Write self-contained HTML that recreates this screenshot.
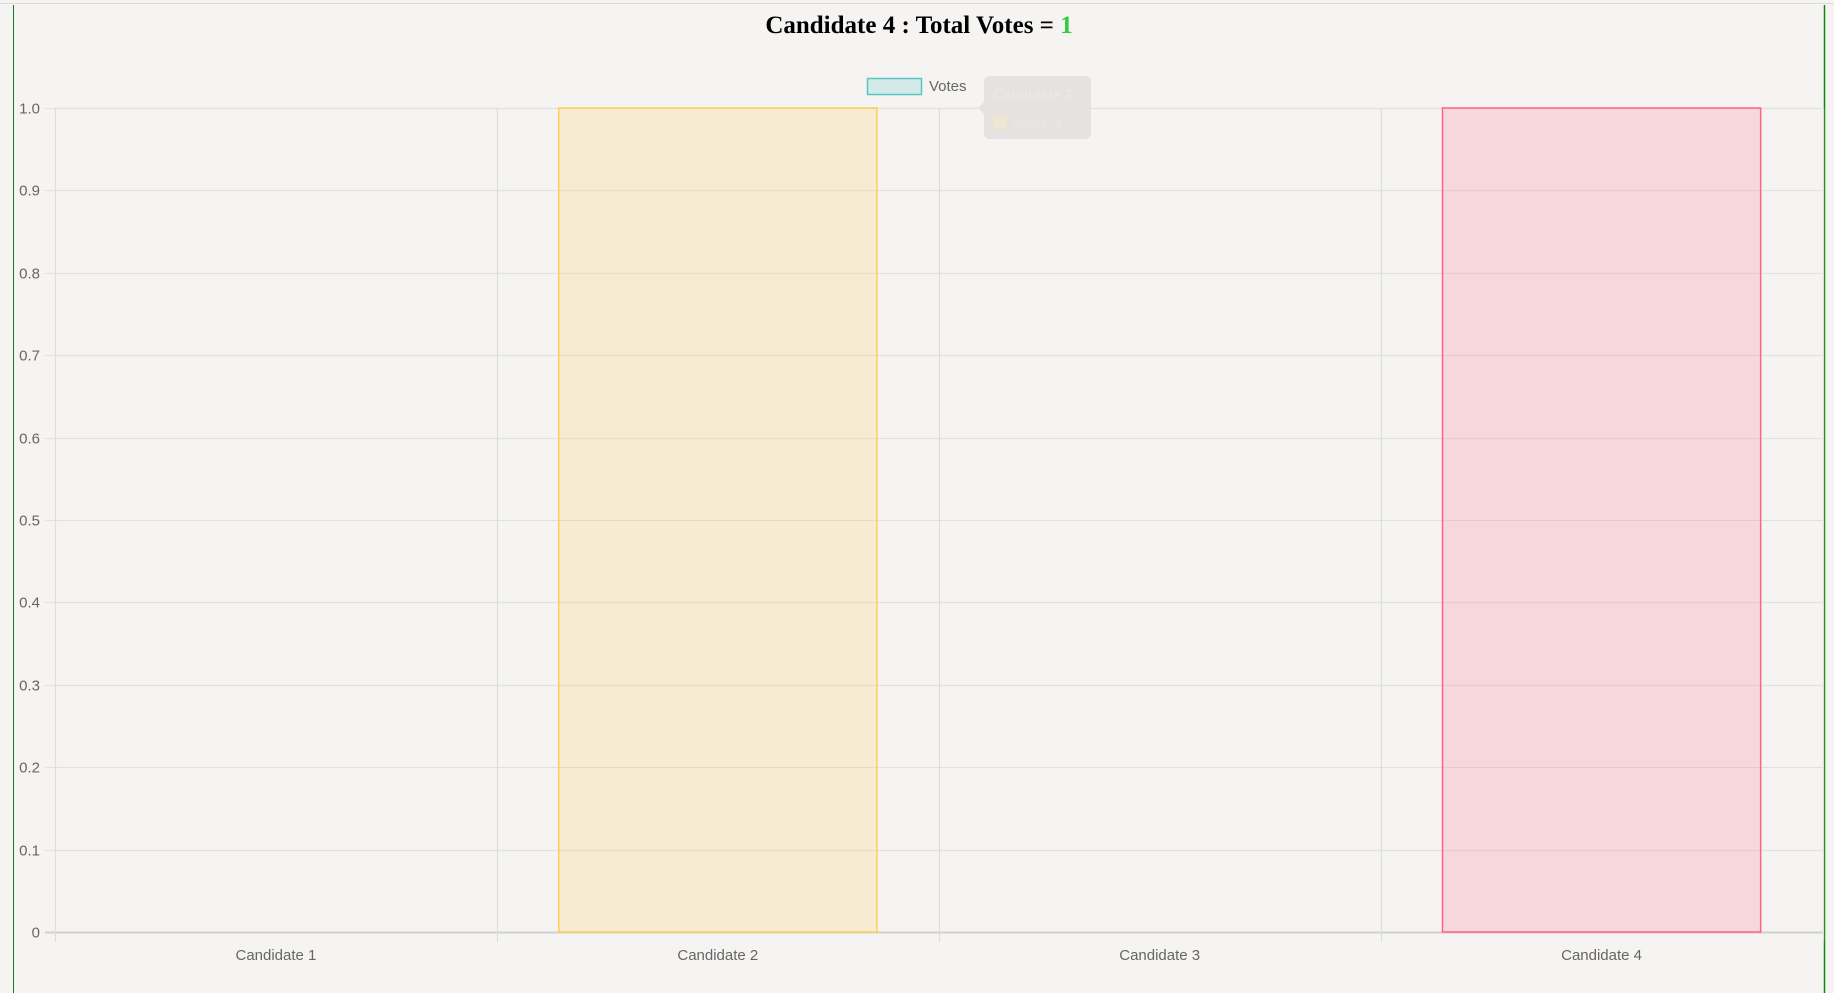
<!DOCTYPE html>
<html><head><meta charset="utf-8"><style>
html,body{margin:0;padding:0;width:1834px;height:993px;overflow:hidden;background:#f5f4f2;}
svg{display:block;}
</style></head><body>
<svg id="chart" width="1834" height="993" xmlns="http://www.w3.org/2000/svg">
<rect x="0" y="0" width="1834" height="993" fill="#f5f4f2"/>
<line x1="0" y1="3.5" x2="1834" y2="3.5" stroke="#dcdcdc" stroke-width="1"/>
<line x1="13.5" y1="5" x2="13.5" y2="993" stroke="#1a7a1a" stroke-width="1"/>
<line x1="1824.5" y1="5" x2="1824.5" y2="993" stroke="#0a8a0a" stroke-width="1.5"/>
<text x="919" y="33" text-anchor="middle" font-family="Liberation Serif, serif" font-weight="bold" font-size="25" fill="#000">Candidate 4 : Total Votes = <tspan fill="#2ecc40">1</tspan></text>
<g>
<rect x="867.5" y="78.5" width="54" height="16" fill="#d3eaea" stroke="#5cc6c6" stroke-width="1.5"/>
<text x="929" y="91" font-family="Liberation Sans, sans-serif" font-size="15" fill="#666">Votes</text>
</g>
<g id="grid"></g>
<g id="bars"></g>
<g id="labels"></g>
<g>
<path d="M984 82 q0-6 6-6 h95 q6 0 6 6 v51 q0 6-6 6 h-95 q-6 0-6-6 v-19 l-6-6 l6-6 z" fill="#e4e3e1"/>
<text x="993" y="99" font-family="Liberation Sans, sans-serif" font-size="14" font-weight="bold" fill="#e9e8e6">Candidate 2</text>
<rect x="993" y="115" width="14" height="14" fill="#ece6d8" stroke="#efe3c8"/>
<text x="1012" y="127" font-family="Liberation Sans, sans-serif" font-size="14" fill="#e9e8e6">Votes: 1</text>
</g>
</svg>
<script>
const categories = ["Candidate 1","Candidate 2","Candidate 3","Candidate 4"];
const votes = [0,1,0,1];
const yTicks = [0,0.1,0.2,0.3,0.4,0.5,0.6,0.7,0.8,0.9,1.0];
const yTickLabels = ["0","0.1","0.2","0.3","0.4","0.5","0.6","0.7","0.8","0.9","1.0"];
const fills = ["rgba(75,192,192,0.2)","rgba(255,206,86,0.2)","rgba(54,162,235,0.2)","rgba(255,99,132,0.2)"];
const strokes = ["#4bc0c0","#ffce56","#36a2eb","#ff6384"];

const NS="http://www.w3.org/2000/svg";
const L=55, R=1822.5, T=108, B=932;
const yMax=1.0;
function y(v){return B-(v/yMax)*(B-T);}
const bw=(R-L)/categories.length;
function xc(i){return L+bw*(i+0.5);}
function mk(tag,attrs,parent){const e=document.createElementNS(NS,tag);for(const k in attrs)e.setAttribute(k,attrs[k]);parent.appendChild(e);return e;}
const grid=document.getElementById('grid'), bars=document.getElementById('bars'), labels=document.getElementById('labels');
yTicks.forEach((t,i)=>{
  const yy=Math.round(y(t))+0.5;
  const ln=mk('line',{x1:L-10,y1:yy,x2:R,y2:yy,stroke:t===0?'#cfcfcf':'#e2e1df','stroke-width':t===0?2:1.2},grid);
  
  
  const tx=mk('text',{x:40,y:yy+5,'text-anchor':'end','font-family':'Liberation Sans, sans-serif','font-size':15,fill:'#666'},labels);
  tx.textContent=yTickLabels[i];
  
  
});
for(let i=0;i<=categories.length;i++){
  const xx=Math.round(L+bw*i)+0.5;
  const ln=mk('line',{x1:xx,y1:T,x2:xx,y2:B+10,stroke:'#dedddb','stroke-width':1.2},grid);
  
  
}
categories.forEach((c,i)=>{
  const w=bw*0.72, v=votes[i];
  if(v>0){
    const r=mk('rect',{x:xc(i)-w/2,y:y(v),width:w,height:B-y(v),fill:fills[i],stroke:strokes[i],'stroke-width':1.5},bars);
    
    
  }
  const tx=mk('text',{x:xc(i),y:960,'text-anchor':'middle','font-family':'Liberation Sans, sans-serif','font-size':15,fill:'#666'},labels);
  tx.textContent=c;
  
  
});
</script>
</body></html>
